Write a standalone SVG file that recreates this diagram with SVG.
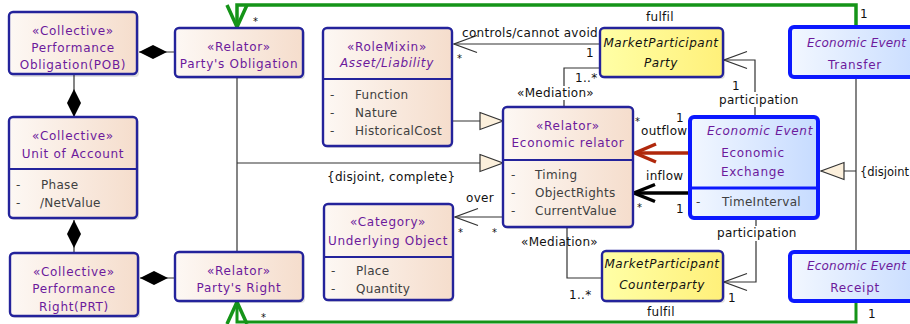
<svg xmlns="http://www.w3.org/2000/svg" width="910" height="324" viewBox="0 0 910 324">
<defs>
<linearGradient id="gPeach" x1="0" y1="0" x2="1" y2="0"><stop offset="0" stop-color="#fdf8f4"/><stop offset="1" stop-color="#f5ddcc"/></linearGradient>
<linearGradient id="gBlue" x1="0" y1="0" x2="1" y2="0"><stop offset="0" stop-color="#f2f7ff"/><stop offset="1" stop-color="#c6dbff"/></linearGradient>
<linearGradient id="gYellow" x1="0" y1="0" x2="1" y2="0"><stop offset="0" stop-color="#ffffa6"/><stop offset="1" stop-color="#fff07a"/></linearGradient>
<marker id="open" markerUnits="userSpaceOnUse" viewBox="-26 -11 28 22" refX="0" refY="0" markerWidth="28" markerHeight="22" orient="auto" overflow="visible"><path d="M-23,-8.5 L0,0 L-23,8.5" fill="none" stroke="#333" stroke-width="1.3"/></marker>
<marker id="openRed" markerUnits="userSpaceOnUse" viewBox="-26 -12 28 24" refX="0" refY="0" markerWidth="28" markerHeight="24" orient="auto" overflow="visible"><path d="M-21,-9 L0,0 L-21,9" fill="none" stroke="#b0280c" stroke-width="3.5"/></marker>
<marker id="openBlack" markerUnits="userSpaceOnUse" viewBox="-26 -12 28 24" refX="0" refY="0" markerWidth="28" markerHeight="24" orient="auto" overflow="visible"><path d="M-21,-8.5 L0,0 L-21,8.5" fill="none" stroke="#000" stroke-width="3.5"/></marker>
<marker id="openGreen" markerUnits="userSpaceOnUse" viewBox="-26 -12 28 24" refX="0" refY="0" markerWidth="28" markerHeight="24" orient="auto" overflow="visible"><path d="M-22,-10 L0,0 L-22,10" fill="none" stroke="#159418" stroke-width="3.5"/></marker>
<marker id="tri" markerUnits="userSpaceOnUse" viewBox="-25 -10 27 20" refX="0" refY="0" markerWidth="27" markerHeight="20" orient="auto" overflow="visible"><path d="M-23,-8.5 L0,0 L-23,8.5 Z" fill="#fcf0dc" stroke="#333" stroke-width="1.2"/></marker>
<marker id="dia" markerUnits="userSpaceOnUse" viewBox="-30 -8 31 16" refX="0" refY="0" markerWidth="31" markerHeight="16" orient="auto" overflow="visible"><path d="M0,0 L-14,-7 L-28,0 L-14,7 Z" fill="#000"/></marker>
</defs>
<style>
.pe{fill:url(#gPeach);stroke:#24239b;stroke-width:2.4}
.bl{fill:url(#gBlue);stroke:#0b18ff;stroke-width:4}
.ye{fill:url(#gYellow);stroke:#24239b;stroke-width:2.4}
.sh{fill:#000;opacity:0.12}
.sp{stroke:#24239b;stroke-width:2.2}
.spb{stroke:#0b18ff;stroke-width:3}
text{font-family:"DejaVu Sans","Liberation Sans",sans-serif;font-size:12px}
.n{fill:#6c1a9c;letter-spacing:0.7px;text-anchor:middle}
.ee{fill:#6c1a9c;letter-spacing:0.2px;font-style:italic}
.it{font-style:italic}
.k{fill:#111;letter-spacing:0.5px;text-anchor:middle}
.a{fill:#404040;letter-spacing:0.3px}
.l{fill:#111;letter-spacing:0.3px}
.s{fill:#111;font-size:10px}
.c{fill:none;stroke:#333;stroke-width:1.2}
.wb{fill:#fff}
</style>
<g id="connectors">
<path class="c" d="M175,52 H139" marker-end="url(#dia)"/>
<path class="c" d="M74,74 V117" marker-end="url(#dia)"/>
<path class="c" d="M74,253 V220" marker-end="url(#dia)"/>
<path class="c" d="M175,278 H140" marker-end="url(#dia)"/>
<path class="c" d="M237,77 V252"/>
<path class="c" d="M237,163 H503" marker-end="url(#tri)"/>
<path class="c" d="M452,121 H503" marker-end="url(#tri)"/>
<path class="c" d="M600,44 H454" marker-end="url(#open)"/>
<path class="c" d="M564,107 V68 H600"/>
<path class="c" d="M567,227 V278 H602"/>
<path class="c" d="M503,217 H455" marker-end="url(#open)"/>
<path d="M690,153 H635" fill="none" stroke="#b0280c" stroke-width="3.5" marker-end="url(#openRed)"/>
<path d="M690,193 H634" fill="none" stroke="#000" stroke-width="3.5" marker-end="url(#openBlack)"/>
<path class="c" d="M755,117 V60 H724" marker-end="url(#open)"/>
<path class="c" d="M756,218 V282 H724" marker-end="url(#open)"/>
<path class="c" d="M856,78 V252"/>
<path class="c" d="M856,171 H821" marker-end="url(#tri)"/>
<path d="M856,27 V5 H237 V27" fill="none" stroke="#159418" stroke-width="3.5" marker-end="url(#openGreen)"/>
<path d="M856,301 V322 H237 V302" fill="none" stroke="#159418" stroke-width="3" marker-end="url(#openGreen)"/>
<rect class="wb" x="516" y="86" width="84" height="14"/>
<rect class="wb" x="717" y="92" width="85" height="15"/>
<rect class="wb" x="715" y="226" width="85" height="15"/>
<text class="l" x="462" y="37">controls/cannot avoid</text>
<text class="s" x="457" y="62">*</text>
<text class="l" x="586" y="57">1</text>
<text class="l" x="575" y="82">1..*</text>
<text class="l" x="517" y="97">«Mediation»</text>
<text class="l" x="327" y="181">{disjoint, complete}</text>
<text class="l" x="466" y="202">over</text>
<text class="s" x="458" y="236">*</text>
<text class="s" x="492" y="236">*</text>
<text class="l" x="521" y="246">«Mediation»</text>
<text class="l" x="569" y="299">1..*</text>
<text class="l" x="641" y="135">outflow</text>
<text class="s" x="635" y="125">*</text>
<text class="l" x="676" y="122">1</text>
<text class="l" x="646" y="180">inflow</text>
<text class="s" x="637" y="211">*</text>
<text class="l" x="676" y="213">1</text>
<text class="l" x="719" y="104">participation</text>
<text class="l" x="732" y="90">1</text>
<text class="l" x="717" y="237">participation</text>
<text class="l" x="728" y="302">1</text>
<text class="l" x="860" y="176" style="font-size:11.5px;letter-spacing:0">{disjoint</text>
<text class="l" x="646" y="21">fulfil</text>
<text class="l" x="860" y="18">1</text>
<text class="s" x="253" y="25">*</text>
<text class="l" x="647" y="316">fulfil</text>
<text class="l" x="868" y="318">1</text>
<text class="s" x="261" y="321">*</text>
</g>
<g id="pob">
<rect class="sh" x="11" y="14" width="128" height="63" rx="4"/>
<rect class="pe" x="9" y="12" width="128" height="62" rx="4"/>
<text class="n" x="73" y="35">«Collective»</text>
<text class="n" x="73" y="52">Performance</text>
<text class="n" x="73" y="69">Obligation(POB)</text>
</g>
<g id="partys-obligation">
<rect class="sh" x="177" y="30" width="128" height="49" rx="4"/>
<rect class="pe" x="175" y="28" width="128" height="49" rx="4"/>
<text class="n" x="239" y="51">«Relator»</text>
<text class="n" x="239" y="68">Party's Obligation</text>
</g>
<g id="unit-of-account">
<rect class="sh" x="11" y="119" width="128" height="101" rx="4"/>
<rect class="pe" x="9" y="117" width="128" height="101" rx="4"/>
<line class="sp" x1="9" y1="169" x2="137" y2="169"/>
<text class="n" x="73" y="140">«Collective»</text>
<text class="n" x="73" y="158">Unit of Account</text>
<text class="a" x="16" y="189">-</text>
<text class="a" x="41" y="189">Phase</text>
<text class="a" x="16" y="207">-</text>
<text class="a" x="40" y="207">/NetValue</text>
</g>
<g id="prt">
<rect class="sh" x="12" y="255" width="128" height="63" rx="4"/>
<rect class="pe" x="10" y="253" width="128" height="63" rx="4"/>
<text class="n" x="74" y="276">«Collective»</text>
<text class="n" x="74" y="293">Performance</text>
<text class="n" x="74" y="311">Right(PRT)</text>
</g>
<g id="partys-right">
<rect class="sh" x="177" y="254" width="128" height="49" rx="4"/>
<rect class="pe" x="175" y="252" width="128" height="49" rx="4"/>
<text class="n" x="239" y="275">«Relator»</text>
<text class="n" x="239" y="292">Party's Right</text>
</g>
<g id="asset-liability">
<rect class="sh" x="325" y="30" width="128" height="118" rx="4"/>
<rect class="pe" x="323" y="28" width="129" height="118" rx="4"/>
<line class="sp" x1="323" y1="79" x2="452" y2="79"/>
<text class="n" x="387" y="51">«RoleMixin»</text>
<text class="n it" x="387" y="67">Asset/Liability</text>
<text class="a" x="330" y="99">-</text>
<text class="a" x="355" y="99">Function</text>
<text class="a" x="330" y="117">-</text>
<text class="a" x="355" y="117">Nature</text>
<text class="a" x="330" y="135">-</text>
<text class="a" x="355" y="135">HistoricalCost</text>
</g>
<g id="underlying-object">
<rect class="sh" x="326" y="206" width="128" height="96" rx="4"/>
<rect class="pe" x="324" y="204" width="129" height="96" rx="4"/>
<line class="sp" x1="324" y1="257" x2="453" y2="257"/>
<text class="n" x="388" y="226">«Category»</text>
<text class="n" x="388" y="245">Underlying Object</text>
<text class="a" x="331" y="275">-</text>
<text class="a" x="356" y="275">Place</text>
<text class="a" x="331" y="293">-</text>
<text class="a" x="356" y="293">Quantity</text>
</g>
<g id="economic-relator">
<rect class="sh" x="505" y="109" width="129" height="120" rx="4"/>
<rect class="pe" x="503" y="107" width="130" height="120" rx="4"/>
<line class="sp" x1="503" y1="160" x2="633" y2="160"/>
<text class="n" x="568" y="130">«Relator»</text>
<text class="n" x="568" y="147">Economic relator</text>
<text class="a" x="511" y="179">-</text>
<text class="a" x="535" y="179">Timing</text>
<text class="a" x="511" y="197">-</text>
<text class="a" x="535" y="197">ObjectRights</text>
<text class="a" x="511" y="215">-</text>
<text class="a" x="535" y="215">CurrentValue</text>
</g>
<g id="party">
<rect class="sh" x="602" y="30" width="123" height="49" rx="4"/>
<rect class="ye" x="600" y="28" width="123" height="49" rx="4"/>
<text class="k it" x="661" y="47">MarketParticipant</text>
<text class="k it" x="661" y="67">Party</text>
</g>
<g id="counterparty">
<rect class="sh" x="604" y="253" width="121" height="50" rx="4"/>
<rect class="ye" x="602" y="251" width="121" height="50" rx="4"/>
<text class="k it" x="662" y="268">MarketParticipant</text>
<text class="k it" x="662" y="289">Counterparty</text>
</g>
<g id="economic-exchange">
<rect class="sh" x="692" y="119" width="128" height="101" rx="4"/>
<rect class="bl" x="690" y="117" width="128" height="101" rx="4"/>
<line class="spb" x1="690" y1="188" x2="818" y2="188"/>
<text class="n it" x="760" y="135">Economic Event</text>
<text class="n" x="753" y="157">Economic</text>
<text class="n" x="753" y="176">Exchange</text>
<text class="a" x="696" y="206">-</text>
<text class="a" x="722" y="206">TimeInterval</text>
</g>
<g id="transfer">
<rect class="sh" x="792" y="29" width="140" height="50" rx="4"/>
<rect class="bl" x="790" y="27" width="140" height="50" rx="4"/>
<text class="ee" x="807" y="47">Economic Event</text>
<text class="n" x="855" y="69">Transfer</text>
</g>
<g id="receipt">
<rect class="sh" x="792" y="254" width="140" height="49" rx="4"/>
<rect class="bl" x="790" y="252" width="140" height="49" rx="4"/>
<text class="ee" x="807" y="270">Economic Event</text>
<text class="n" x="855" y="292">Receipt</text>
</g>
</svg>
